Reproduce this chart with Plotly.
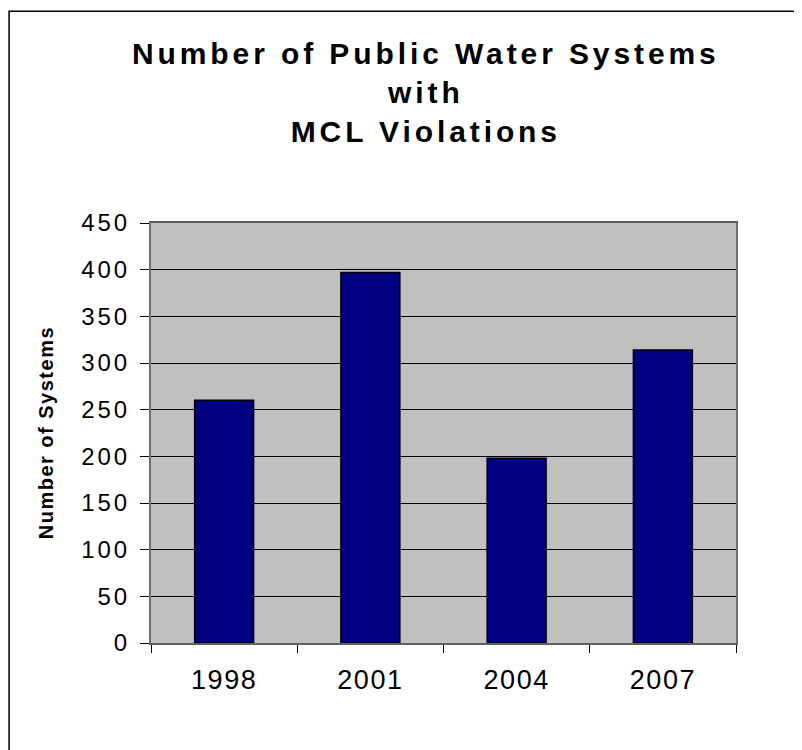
import plotly.graph_objects as go

years = ["1998", "2001", "2004", "2007"]
systems = [260, 397, 198, 314]
y_ticks = [0, 50, 100, 150, 200, 250, 300, 350, 400, 450]

title_lines = ["Number of Public Water Systems", "with", "MCL Violations"]
y_title = "Number of Systems"

FONT = "Liberation Sans, Arial, sans-serif"

def spaced(t, px):
    return f'<span style="letter-spacing:{px}px">{t}</span>'

fig = go.Figure()
fig.add_trace(go.Bar(
    x=years, y=systems,
    marker=dict(color="#000080", line=dict(color="#000000", width=1.5)),
    showlegend=False,
))

fig.update_layout(
    width=802, height=750,
    margin=dict(l=143, r=74, t=215, b=115),
    paper_bgcolor="white",
    plot_bgcolor="#C0C0C0",
    bargap=0.597,
    font=dict(family=FONT, color="black"),
    title=dict(
        text="<br>".join(spaced(t, 3.9) for t in title_lines),
        font=dict(family=FONT, size=30, color="black", weight="bold"),
        x=0.521, xref="container", xanchor="center",
        y=0.926, yref="container", yanchor="top",
    ),
)

fig.update_xaxes(
    type="category",
    tickvals=years, ticktext=[spaced(y, 1.5) for y in years],
    tickfont=dict(size=27, family=FONT, color="black"),
    ticks="outside", ticklen=8, tickcolor="#000000", tickwidth=1,
    tickson="boundaries",
    showline=True, linecolor="#606060", linewidth=2, mirror=True,
    showgrid=False,
    ticklabelstandoff=12,
)
fig.update_yaxes(
    range=[0, 450],
    tickvals=y_ticks, ticktext=[spaced(v, 3) for v in y_ticks],
    tickfont=dict(size=24, family=FONT, color="black"),
    ticks="outside", ticklen=9, tickcolor="#000000", tickwidth=1,
    showline=True, linecolor="#707070", linewidth=2, mirror=True,
    showgrid=True, gridcolor="#000000", gridwidth=1,
    zeroline=False,
    ticklabelstandoff=5,
)

fig.add_annotation(
    text=spaced(y_title, 1.5), textangle=-90,
    xref="paper", yref="paper", x=-0.179, y=0.5,
    xanchor="center", yanchor="middle", showarrow=False,
    font=dict(family=FONT, size=20, color="black", weight="bold"),
)

fig.add_shape(
    type="rect", xref="paper", yref="paper",
    x0=-0.2426, x1=1.25, y0=-0.35, y1=1.504,
    line=dict(color="#000000", width=1.5), fillcolor="rgba(0,0,0,0)",
    layer="below",
)

fig.write_html("out.html")
